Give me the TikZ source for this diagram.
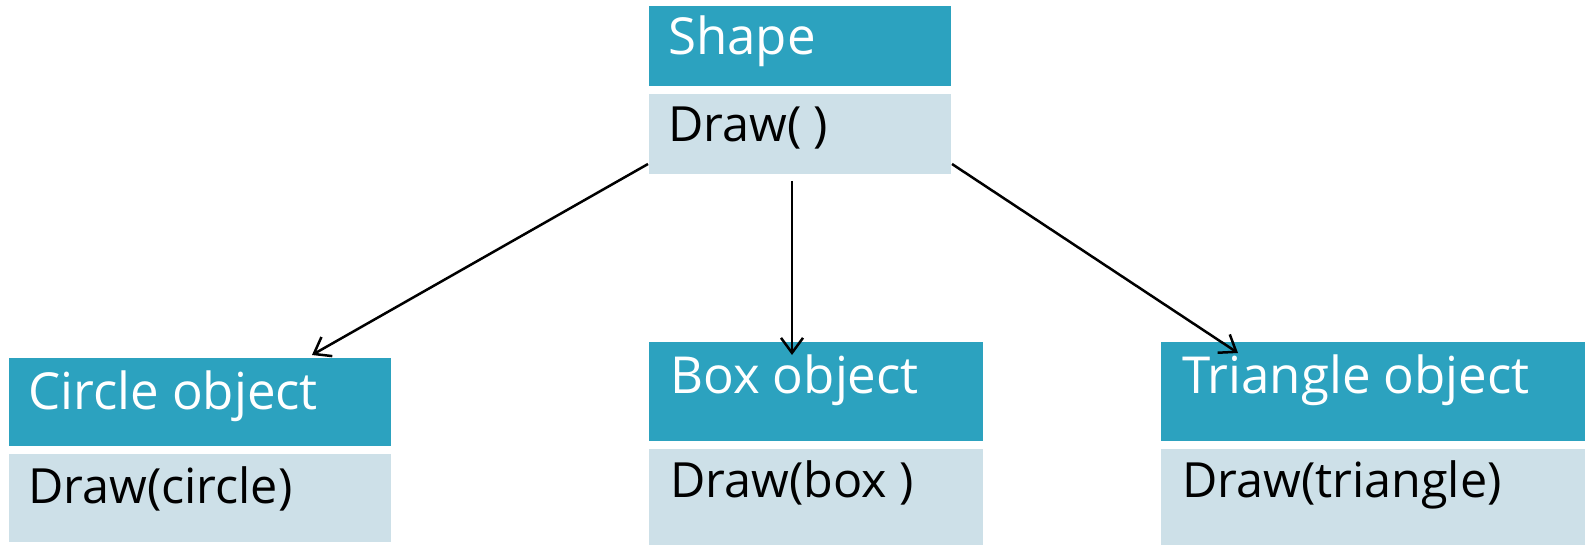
\documentclass[tikz,border=0pt]{standalone}
\usepackage{fontspec}
\setmainfont{Open Sans}
\usetikzlibrary{arrows.meta,calc}
\definecolor{hdr}{RGB}{44,162,191}
\definecolor{bdy}{RGB}{205,224,232}
\tikzset{
  hdrbox/.style={fill=hdr,draw=none,inner sep=0pt,outer sep=0pt,anchor=north west},
  bdybox/.style={fill=bdy,draw=none,inner sep=0pt,outer sep=0pt,anchor=north west},
  hdrtext/.style={text=white,inner sep=0pt,anchor=base west,font=\fontsize{51}{60}\selectfont},
  bdytext/.style={text=black,inner sep=0pt,anchor=base west,font=\fontsize{48.5}{58}\selectfont},
  conn/.style={line width=2.5pt,-{Straight Barb[length=15pt,width=22pt,line width=2.5pt]}}
}
\begin{document}
\begin{tikzpicture}[x=1pt,y=-1pt]
\useasboundingbox (0,0) rectangle (1585,545);
% Shape
\node[hdrbox,minimum width=302pt,minimum height=80pt] (sh) at (649,6) {};
\node[bdybox,minimum width=302pt,minimum height=80pt] (sb) at (649,94) {};
\node[hdrtext] (sht) at (668,55) {Shape};
\node[bdytext] (sbt) at (668,142) {Draw( )};
% Circle
\node[hdrbox,minimum width=382pt,minimum height=88pt] (ch) at (9,358) {};
\node[bdybox,minimum width=382pt,minimum height=88pt] (cb) at (9,454) {};
\node[hdrtext] (cht) at (28,409) {Circle object};
\node[bdytext] (cbt) at (28,503) {Draw(circle)};
% Box
\node[hdrbox,minimum width=334pt,minimum height=99pt] (bh) at (649,342) {};
\node[bdybox,minimum width=334pt,minimum height=96pt] (bb) at (649,449) {};
\node[hdrtext] (bht) at (670,393) {Box object};
\node[bdytext] (bbt) at (670,497) {Draw(box )};
% Triangle
\node[hdrbox,minimum width=424pt,minimum height=99pt] (th) at (1161,342) {};
\node[bdybox,minimum width=424pt,minimum height=96pt] (tb) at (1161,449) {};
\node[hdrtext] (tht) at (1182,393) {Triangle object};
\node[bdytext] (tbt) at (1182,497) {Draw(triangle)};
% connector ends
\coordinate (s1) at ($(sb.south west)+(-1,-10)$);
\coordinate (s2) at ($(sb.south west)+(143,7)$);
\coordinate (s3) at ($(sb.south east)+(1,-10)$);
\coordinate (e1) at ($(ch.north west)+(303,-3)$);
\coordinate (e2) at ($(bh.north west)+(143,13)$);
\coordinate (e3) at ($(th.north west)+(77,11)$);
\draw[conn] (s1) -- (e1);
\draw[conn] (s2) -- (e2);
\draw[conn] (s3) -- (e3);
\end{tikzpicture}
\end{document}
